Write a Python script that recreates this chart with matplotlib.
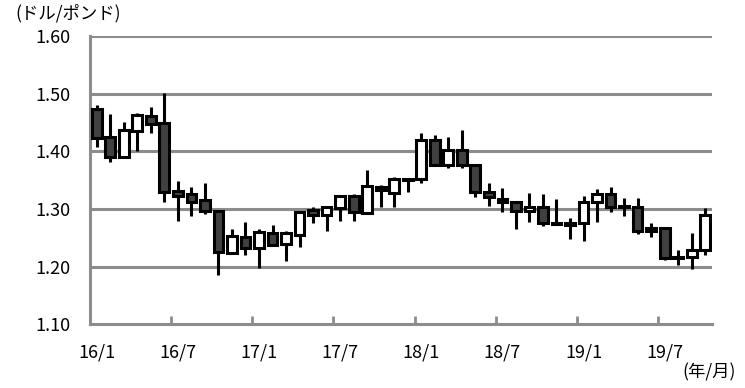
import numpy as np
import matplotlib
matplotlib.use("Agg")
import matplotlib.pyplot as plt

plt.rcParams['font.family'] = ['Noto Sans CJK JP', 'DejaVu Sans']

# monthly candles, 16/1 .. 19/10
months = ["16/1", "16/7", "17/1", "17/7", "18/1", "18/7", "19/1", "19/7"]

opens = [1.474, 1.426, 1.391, 1.435, 1.462, 1.449, 1.332, 1.326, 1.316, 1.297,
         1.224, 1.252, 1.232, 1.258, 1.240, 1.255, 1.298, 1.290, 1.301, 1.323,
         1.293, 1.339, 1.328, 1.352, 1.353, 1.420, 1.377, 1.403, 1.377, 1.330,
         1.318, 1.313, 1.296, 1.304, 1.276, 1.275, 1.275, 1.312, 1.326, 1.303,
         1.303, 1.262, 1.267, 1.215, 1.216, 1.229]
closes = [1.424, 1.391, 1.438, 1.464, 1.447, 1.329, 1.322, 1.313, 1.296, 1.226,
          1.253, 1.233, 1.260, 1.237, 1.258, 1.295, 1.290, 1.303, 1.323, 1.294,
          1.340, 1.333, 1.353, 1.351, 1.420, 1.377, 1.403, 1.377, 1.329, 1.320,
          1.312, 1.296, 1.303, 1.276, 1.274, 1.274, 1.312, 1.326, 1.303, 1.304,
          1.262, 1.267, 1.214, 1.216, 1.229, 1.290]
highs = [1.480, 1.466, 1.451, 1.467, 1.477, 1.501, 1.349, 1.338, 1.345, 1.297,
         1.266, 1.277, 1.266, 1.272, 1.262, 1.297, 1.304, 1.305, 1.323, 1.326,
         1.367, 1.341, 1.355, 1.354, 1.433, 1.429, 1.425, 1.438, 1.377, 1.346,
         1.336, 1.313, 1.328, 1.326, 1.317, 1.284, 1.323, 1.334, 1.338, 1.319,
         1.319, 1.275, 1.268, 1.229, 1.258, 1.301]
lows = [1.407, 1.382, 1.388, 1.400, 1.433, 1.312, 1.280, 1.287, 1.291, 1.185,
        1.222, 1.220, 1.197, 1.236, 1.210, 1.234, 1.276, 1.261, 1.280, 1.279,
        1.291, 1.303, 1.304, 1.330, 1.346, 1.375, 1.372, 1.372, 1.321, 1.305,
        1.295, 1.266, 1.278, 1.270, 1.272, 1.247, 1.245, 1.277, 1.295, 1.288,
        1.257, 1.252, 1.212, 1.203, 1.195, 1.220]

o = np.array(opens)
c = np.array(closes)
x = np.arange(len(o))
up = c >= o

fig = plt.figure(figsize=(7.45, 3.88), dpi=100)
ax = fig.add_axes([0.1208, 0.1649, 0.8349, 0.7411])

grid_col = '#8c8c8c'
for v in [1.2, 1.3, 1.4, 1.5, 1.6]:
    ax.axhline(v, color=grid_col, lw=2.2, zorder=1)

# wicks then bodies
ax.vlines(x, lows, highs, color='black', lw=2.2, zorder=2)
h = c - o
h = np.where(np.abs(h) < 0.002, np.sign(h + 1e-9) * 0.002, h)
ax.bar(x[up], h[up], bottom=o[up], width=0.72, color='white',
       edgecolor='black', linewidth=2.2, zorder=3)
ax.bar(x[~up], h[~up], bottom=o[~up], width=0.72, color='#404040',
       edgecolor='black', linewidth=2.2, zorder=3)

ax.set_xlim(-0.5, len(o) - 0.5)
ax.set_ylim(1.10, 1.60)
ax.set_yticks([1.1, 1.2, 1.3, 1.4, 1.5, 1.6])
ax.set_yticklabels(["%.2f" % v for v in [1.1, 1.2, 1.3, 1.4, 1.5, 1.6]], fontsize=13)
ax.tick_params(axis='y', length=0, pad=14)

ax.set_xticks(np.arange(0, len(o), 6))
ax.set_xticklabels(months, fontsize=13)
ax.set_xticks(np.arange(5.5, len(o), 6), minor=True)
ax.tick_params(axis='x', which='major', length=0, pad=14)
ax.tick_params(axis='x', which='minor', direction='in', length=6, width=2, color=grid_col)

for s in ['top', 'right']:
    ax.spines[s].set_visible(False)
for s in ['left', 'bottom']:
    ax.spines[s].set_color(grid_col)
    ax.spines[s].set_linewidth(2.2)

fig.text(0.02, 0.965, "(ドル/ポンド)", fontsize=12.5, va='center', ha='left')
fig.text(0.988, 0.04, "(年/月)", fontsize=12.5, va='center', ha='right')

fig.savefig("out.png", dpi=100)
